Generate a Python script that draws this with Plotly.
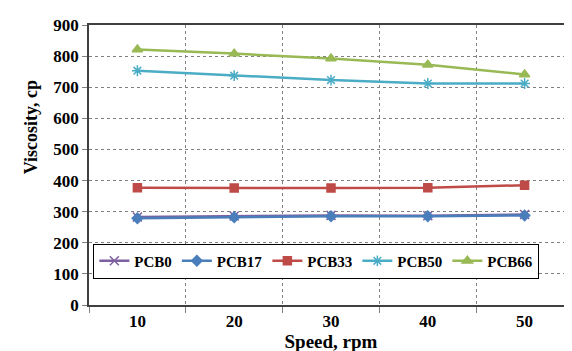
import plotly.graph_objects as go

speed = [10, 20, 30, 40, 50]
pcb0 = [283, 286, 288, 287, 291]
pcb17 = [279, 282, 285, 285, 288]
pcb33 = [377, 376, 376, 377, 385]
pcb50 = [753, 737, 723, 712, 712]
pcb66 = [821, 808, 792, 772, 741]

series = [
    ("PCB0", pcb0, "#7D60A0", "x-thin", 9),
    ("PCB17", pcb17, "#4A7EBB", "diamond", 8),
    ("PCB33", pcb33, "#BE4B48", "square", 8),
    ("PCB50", pcb50, "#4BACC6", "asterisk", 9),
    ("PCB66", pcb66, "#98B954", "triangle-up", 9),
]

fig = go.Figure()
for name, vals, col, sym, sz in series:
    fig.add_trace(go.Scatter(
        x=speed, y=vals, name=name, mode="lines+markers",
        line=dict(color=col, width=2.5),
        marker=dict(symbol=sym, size=sz, color=col, line=dict(color=col, width=1.5)),
    ))

font_serif = "Liberation Serif"
fig.update_layout(
    width=572, height=351,
    margin=dict(l=81, r=5, t=17, b=54),
    paper_bgcolor="white", plot_bgcolor="white",
    font=dict(family=font_serif, color="black"),
    showlegend=True,
    legend=dict(
        orientation="h", x=0.009, y=0.157, xanchor="left", yanchor="middle",
        bgcolor="white", bordercolor="black", borderwidth=1,
        font=dict(size=15, family=font_serif, color="black", weight="bold"),
        itemwidth=30, traceorder="normal",
    ),
    xaxis=dict(
        range=[5, 55], tickvals=speed, ticktext=[str(s) for s in speed],
        showgrid=False, ticks="", showline=True, linecolor="#404040", linewidth=1.5, mirror=True,
        tickfont=dict(size=17, family=font_serif, weight="bold"),
        title=dict(text="<b>Speed, rpm</b>", font=dict(size=19, family=font_serif), standoff=2),
        minor=dict(tick0=5, dtick=10, showgrid=True, gridcolor="#808080", griddash="dot", gridwidth=1,
                   ticks="outside", ticklen=6, tickcolor="#808080"),
        zeroline=False,
    ),
    yaxis=dict(
        range=[0, 900], dtick=100, showgrid=True, gridcolor="#808080", griddash="dot", gridwidth=1,
        ticks="outside", ticklen=5, tickcolor="#808080",
        showline=True, linecolor="#404040", linewidth=1.5, mirror=True,
        tickfont=dict(size=17, family=font_serif, weight="bold"),
        zeroline=False,
    ),
    annotations=[dict(
        text="<b>Viscosity, cp</b>", textangle=-90, xref="paper", yref="paper",
        x=-0.119, y=0.636, xanchor="center", yanchor="middle", showarrow=False,
        font=dict(size=18, family=font_serif, color="black"),
    )],
)

fig.write_html("out.html")
